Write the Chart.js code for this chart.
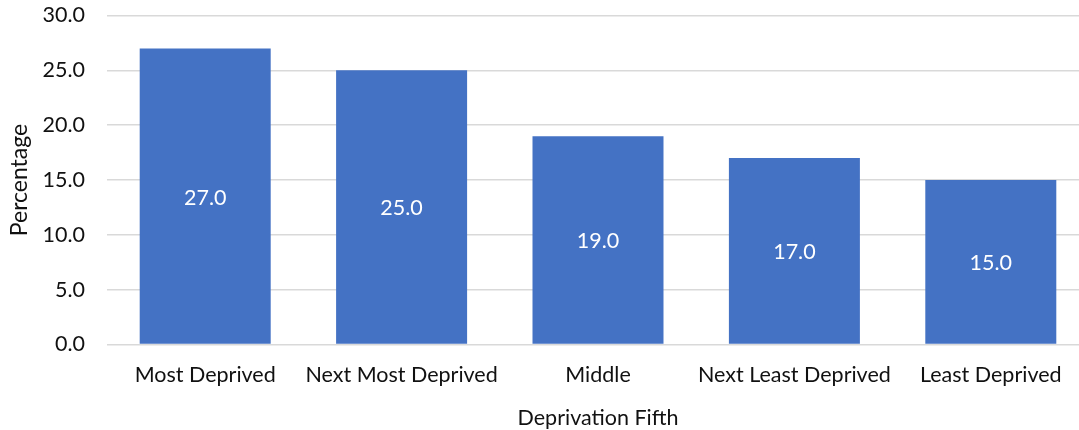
<!DOCTYPE html>
<html>
<head>
<meta charset="utf-8">
<script src="https://cdn.jsdelivr.net/npm/chart.js@4.4.1/dist/chart.umd.min.js"></script>
<style>
  html, body { margin: 0; padding: 0; overflow: hidden; background: #fff; }
  #wrap { width: 1100px; height: 430px; }
</style>
</head>
<body>
<div id="wrap"><canvas id="canvas" width="1100" height="430"></canvas></div>
<script>
var categories = ["Most Deprived", "Next Most Deprived", "Middle", "Next Least Deprived", "Least Deprived"];
var percentages = [27.0, 25.0, 19.0, 17.0, 15.0];
var yTicks = [0, 5, 10, 15, 20, 25, 30];

var fontName = "Lato, 'Open Sans', sans-serif";
var fontSize = 21.5;
var textColor = '#111111';

// write the value in the middle of every bar
var barValues = {
  id: 'barValues',
  afterDatasetsDraw: function (chart) {
    var ctx = chart.ctx;
    var meta = chart.getDatasetMeta(0);
    ctx.save();
    ctx.fillStyle = '#ffffff';
    ctx.font = fontSize + 'px ' + fontName;
    ctx.textAlign = 'center';
    ctx.textBaseline = 'middle';
    meta.data.forEach(function (bar, i) {
      var mid = (bar.y + bar.base) / 2 + 1.5;
      ctx.fillText(percentages[i].toFixed(1), bar.x, mid);
    });
    ctx.restore();
  }
};

var ctx = document.getElementById("canvas").getContext("2d");
var chart = new Chart(ctx, {
  type: 'bar',
  data: {
    labels: categories,
    datasets: [{
      label: 'Percentage',
      data: percentages,
      backgroundColor: '#4472C4',
      borderWidth: 0,
      barPercentage: 0.667,
      categoryPercentage: 1.0
    }]
  },
  options: {
    responsive: false,
    animation: false,
    layout: { padding: { top: 15.5, right: 11, left: 0, bottom: 0 } },
    plugins: {
      legend: { display: false },
      tooltip: { enabled: false }
    },
    scales: {
      x: {
        grid: { display: false, drawTicks: false },
        border: { display: false },
        ticks: { color: textColor, font: { family: fontName, size: fontSize }, padding: 18, maxRotation: 0 },
        title: {
          display: true,
          text: 'Deprivation Fifth',
          color: textColor,
          font: { family: fontName, size: fontSize },
          padding: { top: 4, bottom: -1 }
        },
        afterFit: function (scale) { scale.height = 85.5; }
      },
      y: {
        min: 0,
        max: 30,
        afterBuildTicks: function (scale) {
          scale.ticks = yTicks.map(function (v) { return { value: v }; });
        },
        grid: { color: '#d9d9d9', lineWidth: 1.5, drawTicks: false },
        border: { display: false },
        ticks: {
          color: textColor,
          font: { family: fontName, size: fontSize },
          padding: 22,
          callback: function (v) { return Number(v).toFixed(1); }
        },
        title: {
          display: true,
          text: 'Percentage',
          color: textColor,
          font: { family: fontName, size: 23 },
          padding: { top: 6, bottom: 0 }
        },
        afterFit: function (scale) {
          scale.width = 107;
          scale.paddingTop = 0;
          scale.paddingBottom = 0;
        }
      }
    }
  },
  plugins: [barValues]
});
</script>
</body>
</html>
